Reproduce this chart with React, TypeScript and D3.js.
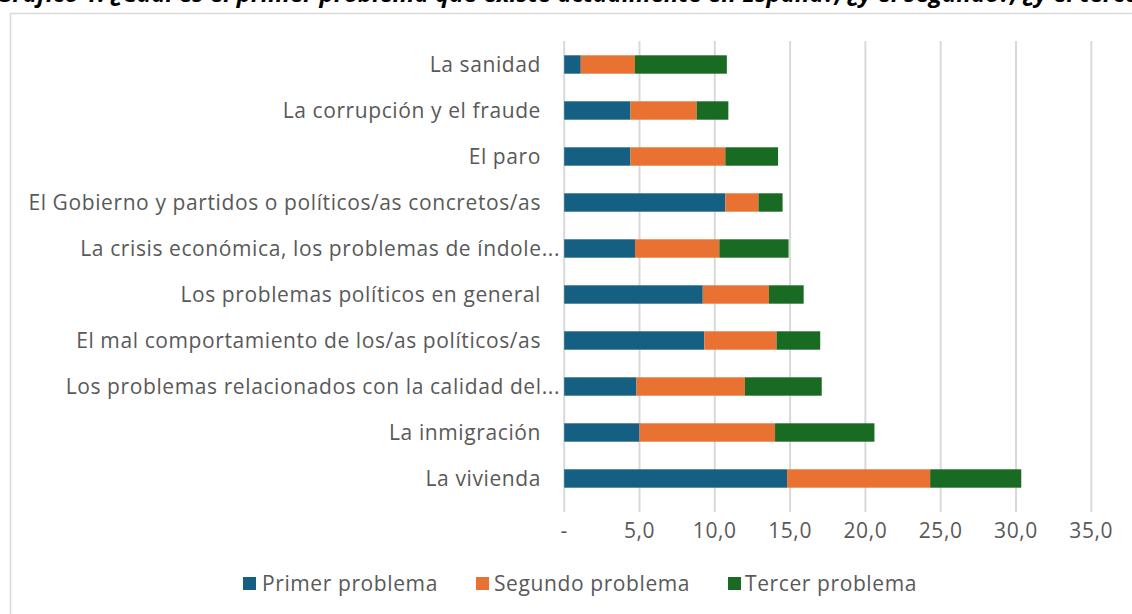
import React from "react";
import * as d3 from "d3";

const categories = [
  "La sanidad",
  "La corrupción y el fraude",
  "El paro",
  "El Gobierno y partidos o políticos/as concretos/as",
  "La crisis económica, los problemas de índole...",
  "Los problemas políticos en general",
  "El mal comportamiento de los/as políticos/as",
  "Los problemas relacionados con la calidad del...",
  "La inmigración",
  "La vivienda",
];
const primer = [1.1, 4.4, 4.4, 10.7, 4.7, 9.2, 9.3, 4.8, 5.0, 14.8];
const segundo = [3.6, 4.4, 6.3, 2.2, 5.6, 4.4, 4.8, 7.2, 9.0, 9.5];
const tercero = [6.1, 2.1, 3.5, 1.6, 4.6, 2.3, 2.9, 5.1, 6.6, 6.05];
const seriesNames = ["Primer problema", "Segundo problema", "Tercer problema"];
const xTicks = [0, 5, 10, 15, 20, 25, 30, 35];
const title =
  "Gráfico 1. ¿Cuál es el primer problema que existe actualmente en España?, ¿y el segundo?, ¿y el tercero?";

const colors = ["#156082", "#E97132", "#196B24"];
const W = 1132;
const H = 614;
const FONT = "'Open Sans', 'Liberation Sans', sans-serif";
const FS = 21;
const LS = 0.6;

export default function App() {
  const x = d3.scaleLinear().domain([0, 35]).range([564.2, 1091.3]);
  const y = d3
    .scaleBand<string>()
    .domain(categories)
    .range([41.5, 501.5])
    .paddingInner(0.6)
    .paddingOuter(0.3);

  const rows = categories.map((c, i) => ({
    cat: c,
    primer: primer[i],
    segundo: segundo[i],
    tercero: tercero[i],
  }));
  const stack = d3
    .stack<any>()
    .keys(["primer", "segundo", "tercero"])(rows);

  const fmt = (v: number) => (v === 0 ? "-" : d3.format(".1f")(v).replace(".", ","));

  const legendItems = [
    { sq: 243, tx: 262 },
    { sq: 476, tx: 494 },
    { sq: 728, tx: 745 },
  ];

  return (
    <svg
      width={W}
      height={H}
      style={{ position: "absolute", left: 0, top: 0, background: "#fff" }}
      fontFamily={FONT}
    >
      <rect x={0} y={0} width={W} height={H} fill="#fff" />
      <text
        x={-4}
        y={2}
        fontSize={24}
        fontWeight="bold"
        fontStyle="italic"
        fill="#000"
      >
        {title}
      </text>
      <rect
        x={10.5}
        y={13.5}
        width={W + 20}
        height={H + 20}
        fill="#fff"
        stroke="#d9d9d9"
        strokeWidth={1.5}
      />
      {xTicks.map((t) => (
        <line
          key={t}
          x1={x(t)}
          x2={x(t)}
          y1={41}
          y2={512}
          stroke="#d9d9d9"
          strokeWidth={2}
        />
      ))}
      {stack.map((s, si) =>
        s.map((d, i) => (
          <rect
            key={si + "-" + i}
            x={x(d[0])}
            y={y(categories[i])!}
            width={x(d[1]) - x(d[0])}
            height={y.bandwidth()}
            fill={colors[si]}
          />
        ))
      )}
      {categories.map((c) => (
        <text
          key={c}
          x={c.endsWith("...") ? 560 : 541}
          y={y(c)! + y.bandwidth() / 2}
          dy="0.35em"
          textAnchor="end"
          fontSize={FS}
          letterSpacing={LS}
          fill="#595959"
        >
          {c}
        </text>
      ))}
      {xTicks.map((t) => (
        <text
          key={t}
          x={x(t)}
          y={538}
          textAnchor="middle"
          fontSize={FS}
          letterSpacing={LS}
          fill="#595959"
        >
          {fmt(t)}
        </text>
      ))}
      {seriesNames.map((n, i) => (
        <g key={n}>
          <rect
            x={legendItems[i].sq}
            y={577}
            width={13}
            height={13}
            fill={colors[i]}
          />
          <text
            x={legendItems[i].tx}
            y={583.5}
            dy="0.35em"
            fontSize={FS}
            letterSpacing={LS}
            fill="#595959"
          >
            {n}
          </text>
        </g>
      ))}
    </svg>
  );
}
